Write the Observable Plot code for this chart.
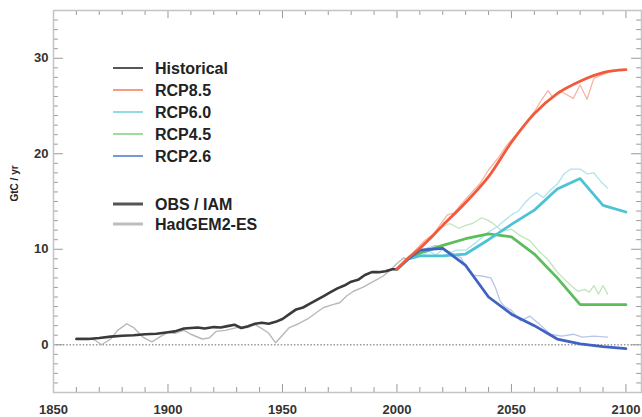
<!DOCTYPE html>
<html><head><meta charset="utf-8">
<script src="https://cdn.jsdelivr.net/npm/d3@7"></script>
<script src="https://cdn.jsdelivr.net/npm/@observablehq/plot@0.6"></script>
<style>
html,body{margin:0;padding:0;background:#fff;}
#wrap{position:relative;width:642px;height:417px;font-family:"Liberation Sans",Arial,sans-serif;}
#legend{position:absolute;left:0;top:0;pointer-events:none;}
</style></head><body><div id="wrap"></div>
<script>
// ---- Observations (OBS) ----
const obsYears = [1860,1865,1870,1875,1880,1885,1890,1895,1900,1903,1907,1910,1913,1916,1920,1923,1926,1929,1932,1935,1938,1941,1944,1947,1950,1953,1956,1959,1962,1965,1968,1971,1974,1977,1980,1983,1986,1989,1992,1995,1998,2000];
const obsValues = [0.6,0.6,0.7,0.85,0.95,1.0,1.1,1.15,1.3,1.4,1.7,1.75,1.8,1.7,1.85,1.8,1.95,2.1,1.75,1.95,2.2,2.3,2.2,2.4,2.7,3.2,3.7,3.9,4.3,4.7,5.1,5.5,5.9,6.2,6.6,6.8,7.3,7.6,7.6,7.7,7.9,7.9];

// ---- HadGEM2-ES historical ----
const hadYears = [1860,1865,1868,1871,1875,1878,1882,1885,1889,1893,1897,1900,1903,1907,1910,1915,1918,1921,1925,1930,1935,1938,1941,1944,1947,1950,1953,1957,1961,1965,1968,1972,1975,1978,1981,1985,1988,1991,1994,1997,2000,2003,2005];
const hadValues = [0.7,0.7,0.5,0.0,0.6,1.5,2.2,1.8,0.8,0.3,0.9,1.3,1.2,1.5,1.1,0.6,0.7,1.4,1.5,1.8,1.8,2.1,1.7,1.2,0.2,1.0,1.8,2.2,2.7,3.4,3.9,4.2,4.4,5.1,5.6,6.0,6.4,6.8,7.2,7.8,8.5,9.1,8.8];

// ---- IAM scenario pathways ----
const iamYears = [2000,2005,2010,2020,2030,2040,2050,2060,2070,2080,2090,2100];
const rcp85 = [7.9,9.1,10.1,12.5,14.9,17.6,21.2,24.2,26.3,27.6,28.5,28.8];
const rcp60 = [7.9,9.0,9.3,9.3,9.5,11.0,12.6,14.1,16.3,17.4,14.6,13.9];
const rcp45 = [7.9,9.0,9.6,10.4,11.1,11.6,11.3,9.5,7.0,4.2,4.2,4.2];
const rcp26 = [7.9,9.0,9.9,10.1,8.3,5.0,3.2,2.0,0.6,0.1,-0.2,-0.4];

// ---- HadGEM2-ES scenario runs ----
const had85Years = [2005,2008,2012,2016,2019,2022,2025,2028,2032,2036,2040,2044,2048,2052,2056,2060,2063,2066,2068,2071,2074,2077,2080,2083,2086,2089,2092];
const had85 = [9.0,9.9,10.9,11.6,12.6,13.6,13.8,14.7,15.8,16.8,18.3,19.5,20.9,22.0,23.2,24.4,25.6,26.6,25.9,26.6,26.2,25.8,27.2,25.7,27.9,28.2,28.5];
const had60Years = [2005,2008,2011,2014,2017,2020,2023,2026,2030,2035,2040,2044,2047,2050,2053,2056,2058,2061,2064,2067,2070,2073,2076,2080,2083,2086,2089,2092];
const had60 = [9.0,9.6,9.3,9.8,9.4,10.0,9.6,9.9,9.9,10.8,11.8,12.4,13.0,13.6,14.0,14.9,15.4,15.9,15.4,16.2,16.8,17.9,18.4,18.4,17.9,18.0,17.1,16.4];
const had45Years = [2005,2008,2011,2015,2019,2023,2027,2030,2033,2037,2040,2042,2046,2050,2054,2058,2062,2066,2070,2073,2076,2079,2082,2084,2086,2088,2090,2092];
const had45 = [9.0,9.8,10.6,11.1,12.2,12.7,12.2,12.5,12.7,13.3,13.0,12.7,11.9,12.1,11.4,10.9,9.8,8.9,7.6,6.9,6.2,5.6,5.8,5.5,6.2,5.3,6.2,5.3];
const had26Years = [2005,2009,2013,2017,2020,2024,2028,2031,2033,2037,2041,2043,2045,2047,2050,2054,2058,2062,2067,2072,2077,2081,2086,2092];
const had26 = [9.1,9.7,10.1,10.4,10.1,9.6,9.1,7.8,7.3,7.2,7.0,6.0,4.6,4.0,3.6,2.5,3.0,2.2,1.1,0.9,1.1,0.8,0.9,0.8];

// ---- Axis ticks ----
const xMajor = [1850,1900,1950,2000,2050,2100];
const xMinor = d3.range(1860,2101,10).filter(d => d % 50 !== 0);
const yMajor = [0,10,20,30];
const yMinor = d3.range(-4,35,1).filter(d => d % 10 !== 0);

// ---- Legend ----
const legendLabels = ["Historical","RCP8.5","RCP6.0","RCP4.5","RCP2.6","OBS / IAM","HadGEM2-ES"];
const legendColors = ["#444444","#f7907a","#86d6e3","#96d692","#6a8dd3","#555555","#bdbdbd"];
const legendWidths = [1.8,1.8,1.8,1.8,1.8,3,3];

const C = {
  r85:"#f15a3a", r60:"#4cc3d3", r45:"#5cbd5c", r26:"#3f63c3",
  l85:"#f8b4a4", l60:"#aee4ec", l45:"#bfe5bb", l26:"#b9c6e8"
};

const zip = (xs, ys) => xs.map((x,i) => ({year:x, value:ys[i]}));

const xDom = [1850, 2106.8], yDom = [-5, 35];
const minLenY = 0.52, majLenY = 0.85;   // tick lengths in y units
const minLenX = 2.1, majLenX = 4.3;     // tick lengths in years
const tickColor = "#999";

const line = (data, stroke, w, curve = "linear") => Plot.line(data, {x:"year", y:"value", stroke, strokeWidth:w, curve, strokeLinejoin:"round", strokeLinecap:"round"});

const plot = Plot.plot({
  width:642, height:417,
  marginLeft:53, marginRight:1, marginTop:10, marginBottom:25,
  x:{domain:xDom}, y:{domain:yDom},
  style:{fontFamily:"'Liberation Sans', Arial, sans-serif", background:"#fff", color:"#222"},
  marks:[
    Plot.ruleY([0], {stroke:"#9a9a9a", strokeWidth:1.3, strokeDasharray:"1.5,1.8"}),
    // bottom & top x ticks
    Plot.ruleX(xMinor, {x:d=>d, y1:yDom[0], y2:yDom[0]+minLenY, stroke:tickColor}),
    Plot.ruleX(xMajor, {x:d=>d, y1:yDom[0], y2:yDom[0]+majLenY, stroke:tickColor}),
    Plot.ruleX(xMinor, {x:d=>d, y1:yDom[1], y2:yDom[1]-minLenY, stroke:tickColor}),
    Plot.ruleX(xMajor, {x:d=>d, y1:yDom[1], y2:yDom[1]-majLenY, stroke:tickColor}),
    // left & right y ticks
    Plot.ruleY(yMinor, {y:d=>d, x1:xDom[0], x2:xDom[0]+minLenX, stroke:tickColor}),
    Plot.ruleY(yMajor, {y:d=>d, x1:xDom[0], x2:xDom[0]+majLenX, stroke:tickColor}),
    Plot.ruleY(yMinor, {y:d=>d, x1:xDom[1], x2:xDom[1]-minLenX, stroke:tickColor}),
    Plot.ruleY(yMajor, {y:d=>d, x1:xDom[1], x2:xDom[1]-majLenX, stroke:tickColor}),
    Plot.frame({stroke:"#c4c4c4", strokeWidth:1.5}),
    Plot.axisX({ticks:xMajor, tickSize:0, tickPadding:12, tickFormat:d=>String(d), label:null, fontSize:13, fontWeight:"bold", fill:"#333"}),
    Plot.axisY({ticks:yMajor, tickSize:0, tickPadding:5, tickFormat:d=>String(d), label:null, fontSize:13, fontWeight:"bold", fill:"#333"}),
    // HadGEM2-ES
    line(zip(hadYears, hadValues), "#b8b8b8", 1.4),
    line(zip(had45Years, had45), C.l45, 1.3),
    line(zip(had60Years, had60), C.l60, 1.3),
    line(zip(had26Years, had26), C.l26, 1.3),
    line(zip(had85Years, had85), C.l85, 1.3),
    // OBS / IAM
    line(zip(obsYears, obsValues), "#3a3a3a", 2.6),
    line(zip(iamYears, rcp45), C.r45, 2.8),
    line(zip(iamYears, rcp60), C.r60, 2.8),
    line(zip(iamYears, rcp26), C.r26, 2.8),
    line(zip(iamYears, rcp85), C.r85, 2.8, "monotone-x"),
    Plot.text(["GtC / yr"], {text:d=>d, frameAnchor:"left", rotate:-90, dx:-39, fontSize:10, fill:"#222", fontWeight:"bold"})
  ]
});
const wrap = document.getElementById("wrap");
wrap.appendChild(plot);

// legend overlay
const rowY = legendLabels.map((_, i) => i < 5 ? 68 + i*22 : 204 + (i-5)*20);
const svg = d3.select(wrap).append("svg").attr("id","legend").attr("width",642).attr("height",417);
const g = svg.selectAll("g").data(legendLabels).join("g").attr("transform",(d,i)=>`translate(0,${rowY[i]})`);
g.append("line").attr("x1",113).attr("x2",143).attr("y1",0).attr("y2",0)
  .attr("stroke",(d,i)=>legendColors[i]).attr("stroke-width",(d,i)=>legendWidths[i]);
g.append("text").attr("x",155).attr("y",0).attr("dy","0.36em").text(d=>d)
  .attr("font-size",16).attr("font-weight","bold").attr("fill","#222")
  .attr("font-family","'Liberation Sans', Arial, sans-serif");
</script></body></html>
